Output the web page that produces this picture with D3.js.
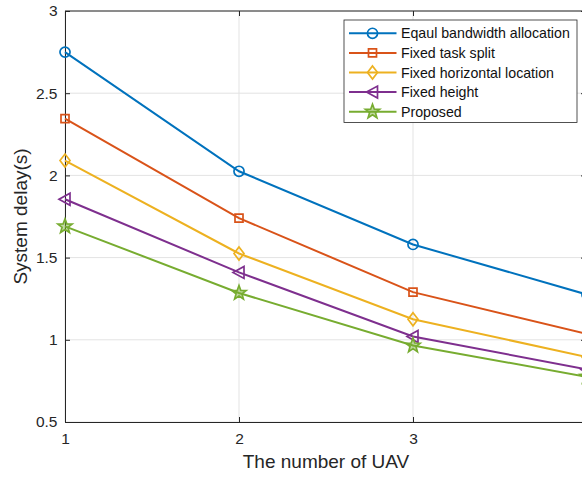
<!DOCTYPE html>
<html>
<head>
<meta charset="utf-8">
<script src="https://cdn.jsdelivr.net/npm/d3@7"></script>
<style>
  body { margin: 0; background: #fff; }
  svg { display: block; font-family: "Liberation Sans", Arial, Helvetica, sans-serif; }
</style>
</head>
<body>
<svg id="chart" width="582" height="477"></svg>
<script>
// Number of UAVs on the x axis
const uavCounts = [1, 2, 3, 4];

// System delay (s) per scheme
const equalBandwidth = [2.75, 2.025, 1.58, 1.275];
const fixedTaskSplit = [2.345, 1.74, 1.29, 1.035];
const fixedHorizontal = [2.09, 1.525, 1.125, 0.895];
const fixedHeight = [1.855, 1.41, 1.02, 0.82];
const proposed = [1.69, 1.285, 0.965, 0.775];

const seriesNames = ["Eqaul bandwidth allocation", "Fixed task split", "Fixed horizontal location", "Fixed height", "Proposed"];
const seriesColors = ["#0072BD", "#D95319", "#EDB120", "#7E2F8E", "#77AC30"];
const seriesMarkers = ["circle", "square", "diamond", "triangleLeft", "star"];

const xTicks = [1, 2, 3, 4];
const yTicks = [0.5, 1, 1.5, 2, 2.5, 3];

const allSeries = [equalBandwidth, fixedTaskSplit, fixedHorizontal, fixedHeight, proposed];

const svg = d3.select("#chart");
const margin = { left: 65, top: 11, right: 587, bottom: 422 };
const x = d3.scaleLinear().domain([1, 4]).range([margin.left, margin.right]);
const y = d3.scaleLinear().domain([0.5, 3]).range([margin.bottom, margin.top]);

const axisColor = "#262626";

// grid
const grid = svg.append("g");
grid.selectAll("line.vx").data(xTicks).join("line")
  .attr("x1", d => x(d)).attr("x2", d => x(d))
  .attr("y1", margin.top).attr("y2", margin.bottom)
  .attr("stroke", "#e3e3e3").attr("stroke-width", 1);
grid.selectAll("line.hy").data(yTicks).join("line")
  .attr("x1", margin.left).attr("x2", margin.right)
  .attr("y1", d => y(d)).attr("y2", d => y(d))
  .attr("stroke", "#e3e3e3").attr("stroke-width", 1);

// axes (box with inward ticks)
const xAxis = d3.axisBottom(x).tickValues(xTicks).tickSize(-5).tickPadding(11).tickFormat(d3.format("d"));
const yAxis = d3.axisLeft(y).tickValues(yTicks).tickSize(-5).tickPadding(7.5).tickFormat(d => d);
const xTop = d3.axisTop(x).tickValues(xTicks).tickSize(-5).tickFormat("");
const yRight = d3.axisRight(y).tickValues(yTicks).tickSize(-6).tickFormat("");

function styleAxis(g) {
  g.select(".domain").attr("stroke", axisColor).attr("stroke-width", 1);
  g.selectAll(".tick line").attr("stroke", axisColor);
  g.selectAll(".tick text").attr("fill", axisColor).attr("font-size", 15.5)
    .attr("font-family", "Liberation Sans, Arial, sans-serif");
}

svg.append("g").attr("transform", `translate(0,${margin.top})`).call(xTop).call(styleAxis)
  .select(".domain").attr("d", `M${margin.left},0H${margin.right}`);
svg.append("g").attr("transform", `translate(${margin.right},0)`).call(yRight).call(styleAxis);
svg.append("g").attr("transform", `translate(0,${margin.bottom})`).call(xAxis).call(styleAxis);
svg.append("g").attr("transform", `translate(${margin.left},0)`).call(yAxis).call(styleAxis);

// marker shapes
function markerPath(type) {
  switch (type) {
    case "circle": return d3.symbol(d3.symbolCircle, 80)();
    case "square": return "M-4,-4H4V4H-4Z";
    case "diamond": return "M0,-6.5L5,0L0,6.5L-5,0Z";
    case "triangleLeft": return "M-6,0L5,-6V6Z";
    case "star": {
      const pts = [];
      for (let i = 0; i < 10; i++) {
        const r = i % 2 === 0 ? 7.5 : 3.1;
        const a = -Math.PI / 2 + i * Math.PI / 5;
        pts.push([r * Math.cos(a), r * Math.sin(a)]);
      }
      return "M" + pts.map(p => p.join(",")).join("L") + "Z";
    }
  }
}

// the small pentagram reads almost solid at this stroke width
const markerFill = type => type === "star" ? 0.45 : 0;

const line = d3.line().x((d, i) => x(uavCounts[i])).y(d => y(d));
const plot = svg.append("g");

allSeries.forEach((vals, k) => {
  plot.append("path").datum(vals)
    .attr("d", line)
    .attr("fill", "none")
    .attr("stroke", seriesColors[k])
    .attr("stroke-width", 2);
  plot.selectAll(null).data(vals).join("path")
    .attr("d", markerPath(seriesMarkers[k]))
    .attr("transform", (d, i) => `translate(${x(uavCounts[i])},${y(d)})`)
    .attr("fill", seriesColors[k])
    .attr("fill-opacity", markerFill(seriesMarkers[k]))
    .attr("stroke", seriesColors[k])
    .attr("stroke-width", 1.7);
});

// legend
const lg = svg.append("g").attr("transform", "translate(344,20)");
lg.append("rect").attr("width", 233).attr("height", 102.5)
  .attr("fill", "#fff").attr("stroke", axisColor).attr("stroke-width", 0.8);
seriesNames.forEach((name, k) => {
  const row = lg.append("g").attr("transform", `translate(0,${13.3 + k * 19.6})`);
  row.append("line").attr("x1", 5).attr("x2", 52.5).attr("y1", 0).attr("y2", 0)
    .attr("stroke", seriesColors[k]).attr("stroke-width", 2);
  row.append("path").attr("d", markerPath(seriesMarkers[k]))
    .attr("transform", "translate(28.5,0)")
    .attr("fill", seriesColors[k])
    .attr("fill-opacity", markerFill(seriesMarkers[k]))
    .attr("stroke", seriesColors[k]).attr("stroke-width", 1.7);
  row.append("text").attr("x", 57).attr("y", 5)
    .attr("font-size", 14.2).attr("fill", "#111").text(name);
});

// axis titles
svg.append("text").attr("x", (margin.left + margin.right) / 2).attr("y", 468)
  .attr("text-anchor", "middle").attr("font-size", 19).attr("fill", axisColor)
  .text("The number of UAV");
svg.append("text").attr("transform", `translate(27,${(margin.top + margin.bottom) / 2}) rotate(-90)`)
  .attr("text-anchor", "middle").attr("font-size", 19).attr("fill", axisColor)
  .text("System delay(s)");
</script>
</body>
</html>
